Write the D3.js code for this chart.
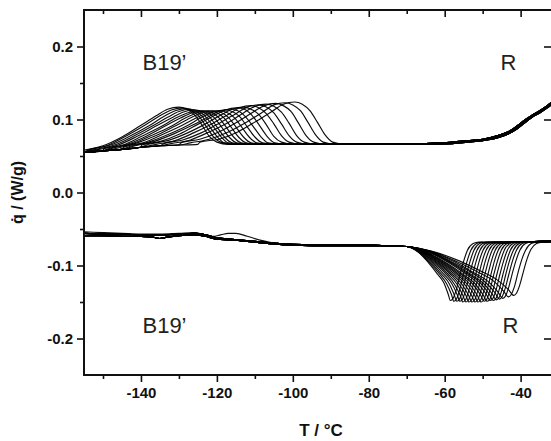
<!DOCTYPE html>
<html>
<head>
<meta charset="utf-8">
<script src="https://cdn.jsdelivr.net/npm/d3@7/dist/d3.min.js"></script>
<style>
  html, body { margin: 0; padding: 0; background: #fff; }
  svg { display: block; font-family: "Liberation Sans", Arial, sans-serif; }
</style>
</head>
<body>
<svg id="chart" width="551" height="441"></svg>
<script>
// Axis ticks
const xTicks = [-140, -120, -100, -80, -60, -40];
const xMinorTicks = [-150, -130, -110, -90, -70, -50];
const yTicks = [-0.2, -0.1, 0.0, 0.1, 0.2];
const yMinorTicks = [-0.15, -0.05, 0.05, 0.15];

// Upper DSC traces (B19' -> R side): shared baseline, per-cycle peak, tail variants
const upperBase = [[-155,.055],[-150,.057],[-145,.059],[-140,.062],[-135,.064],[-130,.065],[-125,.066],[-115,.066],[-105,.066],[-95,.066],[-85,.066],[-75,.066]];
const upperTails = [
  [[-65,.067],[-58,.068],[-54,.070],[-50,.072],[-46,.076],[-43,.082],[-41,.089],[-39,.097],[-37,.104],[-35,.110],[-33,.118],[-31,.126]],
  [[-65,.067],[-58,.069],[-54,.071],[-50,.073],[-46,.078],[-43,.084],[-41,.091],[-39,.099],[-37,.106],[-35,.112],[-33,.119],[-31,.127]],
  [[-65,.066],[-58,.067],[-54,.069],[-50,.071],[-46,.075],[-43,.081],[-41,.087],[-39,.095],[-37,.103],[-35,.109],[-33,.116],[-31,.124]]
];
const upperPeaks = [
  [[-155,.058],[-150,.064],[-145,.076],[-140,.092],[-136,.105],[-133,.114],[-130,.117],[-128,.114],[-126,.107],[-124,.093],[-122,.077],[-120,.069],[-117,.066]],
  [[-154,.058],[-149,.064],[-144,.077],[-139,.092],[-135,.105],[-132,.113],[-129,.116],[-127,.113],[-125,.106],[-123,.092],[-121,.077],[-119,.069],[-116,.066]],
  [[-153,.059],[-148,.065],[-143,.077],[-138,.091],[-134,.104],[-131,.112],[-128,.115],[-126,.112],[-124,.105],[-122,.091],[-120,.077],[-118,.068],[-115,.066]],
  [[-152,.059],[-147,.065],[-142,.077],[-137,.091],[-133,.103],[-130,.111],[-127,.114],[-125,.112],[-123,.104],[-121,.091],[-119,.077],[-117,.068],[-114,.066]],
  [[-151,.059],[-146,.065],[-141,.077],[-136,.091],[-132,.102],[-129,.110],[-126,.113],[-124,.111],[-122,.104],[-120,.090],[-118,.076],[-116,.068],[-113,.066]],
  [[-149.8,.060],[-144.8,.065],[-139.8,.077],[-134.8,.090],[-130.8,.102],[-127.8,.109],[-124.8,.112],[-122.8,.110],[-120.8,.103],[-118.8,.090],[-116.8,.076],[-114.8,.068],[-111.8,.066]],
  [[-148.6,.060],[-143.6,.066],[-138.6,.077],[-133.6,.091],[-129.6,.102],[-126.6,.109],[-123.6,.112],[-121.6,.110],[-119.6,.103],[-117.6,.090],[-115.6,.076],[-113.6,.068],[-110.6,.066]],
  [[-147.3,.061],[-142.3,.067],[-137.3,.078],[-132.3,.090],[-128.3,.102],[-125.3,.109],[-122.3,.112],[-120.3,.110],[-118.3,.103],[-116.3,.090],[-114.3,.076],[-112.3,.068],[-109.3,.066]],
  [[-146,.061],[-141,.068],[-136,.078],[-131,.091],[-127,.102],[-124,.109],[-121,.112],[-119,.110],[-117,.103],[-115,.090],[-113,.076],[-111,.068],[-108,.066]],
  [[-144.5,.062],[-139.5,.068],[-134.5,.079],[-129.5,.091],[-125.5,.102],[-122.5,.109],[-119.5,.112],[-117.5,.110],[-115.5,.103],[-113.5,.090],[-111.5,.076],[-109.5,.068],[-106.5,.066]],
  [[-143,.063],[-138,.069],[-133,.079],[-128,.091],[-124,.103],[-121,.110],[-118,.113],[-116,.111],[-114,.104],[-112,.090],[-110,.076],[-108,.068],[-105,.066]],
  [[-141.5,.064],[-136.5,.070],[-131.5,.080],[-126.5,.092],[-122.5,.103],[-119.5,.111],[-116.5,.114],[-114.5,.112],[-112.5,.104],[-110.5,.091],[-108.5,.077],[-106.5,.068],[-103.5,.066]],
  [[-139.8,.065],[-134.8,.070],[-129.8,.080],[-124.8,.094],[-120.8,.105],[-117.8,.113],[-114.8,.116],[-112.8,.114],[-110.8,.106],[-108.8,.092],[-106.8,.077],[-104.8,.068],[-101.8,.066]],
  [[-138,.066],[-133,.071],[-128,.081],[-123,.094],[-119,.106],[-116,.114],[-113,.117],[-111,.114],[-109,.107],[-107,.093],[-105,.077],[-103,.069],[-100,.066]],
  [[-136,.066],[-131,.071],[-126,.082],[-121,.095],[-117,.107],[-114,.116],[-111,.119],[-109,.116],[-107,.108],[-105,.094],[-103,.078],[-101,.069],[-98,.066]],
  [[-134,.067],[-129,.072],[-124,.082],[-119,.096],[-115,.108],[-112,.117],[-109,.120],[-107,.117],[-105,.109],[-103,.094],[-101,.078],[-99,.069],[-96,.066]],
  [[-132,.067],[-127,.072],[-122,.083],[-117,.096],[-113,.109],[-110,.118],[-107,.121],[-105,.118],[-103,.110],[-101,.095],[-99,.078],[-97,.069],[-94,.066]],
  [[-129.5,.068],[-124.5,.073],[-119.5,.083],[-114.5,.097],[-110.5,.110],[-107.5,.119],[-104.5,.122],[-102.5,.119],[-100.5,.111],[-98.5,.095],[-96.5,.078],[-94.5,.069],[-91.5,.066]],
  [[-127,.068],[-122,.073],[-117,.083],[-112,.097],[-108,.110],[-105,.120],[-102,.123],[-100,.120],[-98,.112],[-96,.096],[-94,.079],[-92,.069],[-89,.066]],
  [[-124.5,.069],[-119.5,.073],[-114.5,.083],[-109.5,.098],[-105.5,.111],[-102.5,.121],[-99.5,.124],[-97.5,.121],[-95.5,.112],[-93.5,.096],[-91.5,.079],[-89.5,.069],[-86.5,.066]]
];

// Lower DSC traces (R -> B19' side): baseline variants, per-cycle dip, tail variants
const lowerHeads = [
  [[-155,-.056],[-150,-.057],[-145,-.057],[-140,-.058],[-135,-.058],[-130,-.057],[-126,-.056],[-123,-.058],[-120,-.062],[-116,-.064],[-112,-.066],[-106,-.069],[-100,-.071],[-90,-.072],[-80,-.072],[-75,-.073]],
  [[-155,-.059],[-150,-.059],[-145,-.060],[-140,-.060],[-137,-.061],[-135,-.063],[-133,-.061],[-130,-.059],[-126,-.058],[-123,-.060],[-120,-.064],[-116,-.065],[-112,-.067],[-106,-.070],[-100,-.072],[-90,-.073],[-80,-.073],[-75,-.073]],
  [[-155,-.054],[-150,-.055],[-145,-.056],[-140,-.057],[-135,-.057],[-130,-.056],[-126,-.055],[-123,-.058],[-121,-.060],[-119,-.058],[-117,-.056],[-115,-.056],[-112,-.060],[-108,-.066],[-104,-.070],[-100,-.072],[-90,-.073],[-80,-.073],[-75,-.073]]
];
const lowerHeadOf = [0,1,0,1,0,1,2,1,0,1,0,1,0,1,0,1,0,1,0,1];
const lowerTails = [
  [[-50,-.068],[-45,-.068],[-40,-.068],[-35,-.067],[-31,-.066]],
  [[-50,-.069],[-45,-.069],[-40,-.068],[-35,-.068],[-31,-.067]]
];
const lowerDips = [
  [[-70,-.074],[-67.1,-.081],[-64.3,-.096],[-62.0,-.111],[-60.2,-.124],[-59.1,-.139],[-58.5,-.148],[-57.8,-.145],[-57.0,-.134],[-56.0,-.113],[-55.0,-.094],[-54.0,-.079],[-52.5,-.070],[-51.0,-.068]],
  [[-70,-.074],[-66.9,-.082],[-63.8,-.097],[-61.3,-.112],[-59.5,-.125],[-58.2,-.140],[-57.6,-.149],[-56.9,-.146],[-56.1,-.134],[-55.1,-.113],[-54.1,-.094],[-53.1,-.079],[-51.6,-.070],[-50.1,-.068]],
  [[-70,-.074],[-66.7,-.082],[-63.4,-.097],[-60.8,-.112],[-58.8,-.125],[-57.5,-.140],[-56.8,-.149],[-56.1,-.146],[-55.3,-.134],[-54.3,-.113],[-53.3,-.094],[-52.3,-.079],[-50.8,-.070],[-49.3,-.068]],
  [[-70,-.074],[-66.5,-.082],[-63.0,-.097],[-60.2,-.112],[-58.1,-.125],[-56.7,-.140],[-56.0,-.149],[-55.3,-.146],[-54.5,-.134],[-53.5,-.113],[-52.5,-.094],[-51.5,-.079],[-50.0,-.070],[-48.5,-.068]],
  [[-70,-.074],[-66.3,-.082],[-62.6,-.097],[-59.6,-.112],[-57.4,-.126],[-55.9,-.141],[-55.2,-.150],[-54.5,-.147],[-53.7,-.135],[-52.7,-.114],[-51.7,-.094],[-50.7,-.079],[-49.2,-.070],[-47.7,-.068]],
  [[-70,-.074],[-66.1,-.082],[-62.2,-.097],[-59.1,-.112],[-56.7,-.126],[-55.2,-.141],[-54.4,-.150],[-53.7,-.147],[-52.9,-.135],[-51.9,-.114],[-50.9,-.094],[-49.9,-.079],[-48.4,-.070],[-46.9,-.068]],
  [[-70,-.074],[-65.9,-.082],[-61.8,-.097],[-58.5,-.112],[-56.1,-.126],[-54.4,-.141],[-53.6,-.150],[-52.9,-.147],[-52.1,-.135],[-51.1,-.114],[-50.1,-.094],[-49.1,-.079],[-47.6,-.070],[-46.1,-.068]],
  [[-70,-.074],[-65.7,-.082],[-61.4,-.097],[-58.0,-.112],[-55.4,-.126],[-53.7,-.141],[-52.8,-.150],[-52.1,-.147],[-51.3,-.135],[-50.3,-.114],[-49.3,-.094],[-48.3,-.079],[-46.8,-.070],[-45.3,-.068]],
  [[-70,-.074],[-65.5,-.082],[-61.0,-.097],[-57.4,-.112],[-54.7,-.126],[-52.9,-.141],[-52.0,-.150],[-51.3,-.147],[-50.5,-.135],[-49.5,-.114],[-48.5,-.094],[-47.5,-.079],[-46.0,-.070],[-44.5,-.068]],
  [[-70,-.074],[-65.3,-.082],[-60.6,-.097],[-56.8,-.112],[-54.0,-.126],[-52.1,-.141],[-51.2,-.150],[-50.5,-.147],[-49.7,-.135],[-48.7,-.114],[-47.7,-.094],[-46.7,-.079],[-45.2,-.070],[-43.7,-.068]],
  [[-70,-.074],[-65.1,-.082],[-60.2,-.097],[-56.3,-.112],[-53.3,-.126],[-51.4,-.141],[-50.4,-.150],[-49.7,-.147],[-48.9,-.135],[-47.9,-.114],[-46.9,-.094],[-45.9,-.079],[-44.4,-.070],[-42.9,-.068]],
  [[-70,-.074],[-64.9,-.082],[-59.8,-.097],[-55.7,-.112],[-52.7,-.125],[-50.6,-.140],[-49.6,-.149],[-48.9,-.146],[-48.1,-.134],[-47.1,-.113],[-46.1,-.094],[-45.1,-.079],[-43.6,-.070],[-42.1,-.068]],
  [[-70,-.074],[-64.7,-.082],[-59.4,-.097],[-55.2,-.112],[-52.0,-.125],[-49.9,-.140],[-48.8,-.149],[-48.1,-.146],[-47.3,-.134],[-46.3,-.113],[-45.3,-.094],[-44.3,-.079],[-42.8,-.070],[-41.3,-.068]],
  [[-70,-.074],[-64.5,-.081],[-59.0,-.096],[-54.6,-.111],[-51.3,-.124],[-49.1,-.139],[-48.0,-.148],[-47.3,-.145],[-46.5,-.134],[-45.5,-.113],[-44.5,-.094],[-43.5,-.079],[-42.0,-.070],[-40.5,-.068]],
  [[-70,-.074],[-64.3,-.081],[-58.6,-.096],[-54.0,-.111],[-50.6,-.124],[-48.3,-.139],[-47.2,-.148],[-46.5,-.145],[-45.7,-.134],[-44.7,-.113],[-43.7,-.094],[-42.7,-.079],[-41.2,-.070],[-39.7,-.068]],
  [[-70,-.074],[-64.1,-.081],[-58.2,-.096],[-53.5,-.111],[-49.9,-.124],[-47.6,-.138],[-46.4,-.147],[-45.7,-.144],[-44.9,-.133],[-43.9,-.112],[-42.9,-.093],[-41.9,-.079],[-40.4,-.070],[-38.9,-.068]],
  [[-70,-.074],[-63.9,-.081],[-57.8,-.096],[-52.9,-.110],[-49.3,-.123],[-46.8,-.137],[-45.6,-.146],[-44.9,-.143],[-44.1,-.132],[-43.1,-.112],[-42.1,-.093],[-41.1,-.079],[-39.6,-.070],[-38.1,-.068]],
  [[-70,-.074],[-63.7,-.081],[-57.4,-.095],[-52.3,-.110],[-48.5,-.122],[-46.0,-.136],[-44.7,-.145],[-44.0,-.142],[-43.2,-.131],[-42.2,-.111],[-41.2,-.093],[-40.2,-.079],[-38.7,-.070],[-37.2,-.068]],
  [[-70,-.074],[-63.3,-.081],[-56.7,-.095],[-51.3,-.109],[-47.2,-.121],[-44.5,-.135],[-43.2,-.143],[-42.5,-.140],[-41.7,-.130],[-40.7,-.110],[-39.7,-.092],[-38.7,-.079],[-37.2,-.070],[-35.7,-.068]],
  [[-70,-.074],[-63.0,-.081],[-56.0,-.094],[-50.4,-.108],[-46.1,-.120],[-43.2,-.133],[-41.8,-.141],[-41.1,-.138],[-40.3,-.128],[-39.3,-.109],[-38.3,-.091],[-37.3,-.078],[-35.8,-.070],[-34.3,-.068]]
];

// Phase labels
const phaseLabels = [
  { text: "B19\u2019", T: -139.6, q: 0.168 },
  { text: "R",         T: -45.3,  q: 0.168 },
  { text: "B19\u2019", T: -139.6, q: -0.1925 },
  { text: "R",         T: -44.8,  q: -0.1925 }
];

const svg = d3.select("#chart");
const margin = { left: 84, top: 10, right: 552, bottom: 375 };

const x = d3.scaleLinear().domain([-155, -32]).range([margin.left, margin.right - 1]);
const y = d3.scaleLinear().domain([-0.25, 0.25]).range([margin.bottom, margin.top]);

svg.append("defs").append("clipPath").attr("id", "plotClip")
  .append("rect")
  .attr("x", margin.left).attr("y", margin.top)
  .attr("width", margin.right - margin.left).attr("height", margin.bottom - margin.top);

// Join a baseline, a feature segment and a tail into one trace
function assemble(base, seg, tail) {
  const t0 = seg[0][0], t1 = seg[seg.length - 1][0];
  return [
    ...base.filter(d => d[0] < t0),
    ...seg,
    ...base.filter(d => d[0] > t1),
    ...tail.filter(d => d[0] > t1)
  ];
}

const upperTraces = upperPeaks.map((seg, i) => assemble(upperBase, seg, upperTails[i % upperTails.length]));
const lowerTraces = lowerDips.map((seg, i) => assemble(lowerHeads[lowerHeadOf[i]], seg, lowerTails[i % lowerTails.length]));

const line = d3.line()
  .x(d => x(d[0]))
  .y(d => y(d[1]))
  .curve(d3.curveMonotoneX);

const traces = svg.append("g").attr("clip-path", "url(#plotClip)");
traces.selectAll("path.trace")
  .data(upperTraces.concat(lowerTraces))
  .join("path")
  .attr("class", "trace")
  .attr("d", line)
  .attr("fill", "none")
  .attr("stroke", "#000")
  .attr("stroke-width", 1.15)
  .attr("stroke-opacity", 0.95);

// Axes
const tickFont = g => g.selectAll("text")
  .attr("font-size", 15).attr("font-weight", "bold").attr("fill", "#111")
  .attr("font-family", "'Liberation Sans', Arial, sans-serif");
const tickStroke = g => g.selectAll("line").attr("stroke", "#111").attr("stroke-width", 1.6);

const gx = svg.append("g").attr("transform", `translate(0,${margin.bottom})`)
  .call(d3.axisBottom(x).tickValues(xTicks).tickSize(7).tickPadding(5).tickFormat(d => String(d)));
gx.select(".domain").remove();
gx.call(tickFont).call(tickStroke);

const gxm = svg.append("g").attr("transform", `translate(0,${margin.bottom})`)
  .call(d3.axisBottom(x).tickValues(xMinorTicks).tickSize(4).tickFormat(""));
gxm.select(".domain").remove();
gxm.call(tickStroke);

const gxt = svg.append("g").attr("transform", `translate(0,${margin.top})`)
  .call(d3.axisTop(x).tickValues(xTicks).tickSize(-7).tickFormat(""));
gxt.select(".domain").remove();
gxt.call(tickStroke);
const gxtm = svg.append("g").attr("transform", `translate(0,${margin.top})`)
  .call(d3.axisTop(x).tickValues(xMinorTicks).tickSize(-4).tickFormat(""));
gxtm.select(".domain").remove();
gxtm.call(tickStroke);

const gy = svg.append("g").attr("transform", `translate(${margin.left},0)`)
  .call(d3.axisLeft(y).tickValues(yTicks).tickSize(7).tickPadding(4).tickFormat(d => d.toFixed(1)));
gy.select(".domain").remove();
gy.call(tickFont).call(tickStroke);

const gym = svg.append("g").attr("transform", `translate(${margin.left},0)`)
  .call(d3.axisLeft(y).tickValues(yMinorTicks).tickSize(4).tickFormat(""));
gym.select(".domain").remove();
gym.call(tickStroke);

const gyr = svg.append("g").attr("transform", `translate(${margin.right - 1},0)`)
  .call(d3.axisRight(y).tickValues(yTicks).tickSize(-7).tickFormat(""));
gyr.select(".domain").remove();
gyr.call(tickStroke);

// Frame
svg.append("rect")
  .attr("x", margin.left).attr("y", margin.top)
  .attr("width", margin.right - margin.left).attr("height", margin.bottom - margin.top)
  .attr("fill", "none").attr("stroke", "#111").attr("stroke-width", 2);

// Phase labels
svg.selectAll("text.phase")
  .data(phaseLabels)
  .join("text")
  .attr("class", "phase")
  .attr("x", d => x(d.T))
  .attr("y", d => y(d.q))
  .attr("font-size", 22)
  .attr("fill", "#222")
  .text(d => d.text);

// Axis titles
svg.append("text")
  .attr("x", (margin.left + margin.right) / 2 + 3)
  .attr("y", 436)
  .attr("text-anchor", "middle")
  .attr("font-size", 17).attr("font-weight", "bold").attr("fill", "#111")
  .text("T / \u00B0C");

svg.append("text")
  .attr("transform", `translate(23,${y(0)}) rotate(-90)`)
  .attr("text-anchor", "middle")
  .attr("font-size", 16).attr("font-weight", "bold").attr("fill", "#111")
  .text("q\u0307 / (W/g)");
</script>
</body>
</html>
